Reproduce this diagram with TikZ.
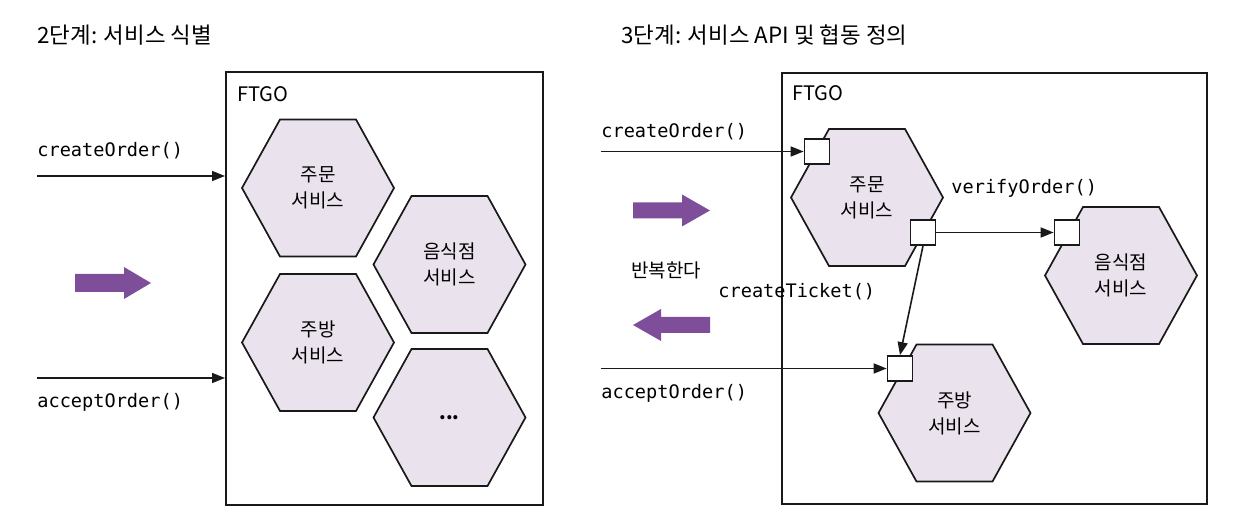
\documentclass[tikz,border=0pt]{standalone}
\usepackage{fontspec}
\setmainfont{Noto Sans CJK KR}
\setmonofont{DejaVu Sans Mono}
\usetikzlibrary{arrows.meta}

\definecolor{svcfill}{RGB}{234,226,236}
\definecolor{stepviolet}{RGB}{126,78,154}

\tikzset{
  hexcell/.style={fill=svcfill, draw=black!90, line width=0.85pt},
  svctext/.style={align=center, font=\fontsize{9.5}{13}\selectfont},
  port/.style={draw=black!90, fill=white, line width=0.85pt, minimum size=12.5pt, inner sep=0pt},
  appbox/.style={draw=black!90, line width=0.9pt, anchor=north west, inner sep=0pt},
  flow/.style={line width=0.8pt, draw=black!90, -{Triangle[length=6.5pt,width=5pt]}},
  apicall/.style={font=\ttfamily\fontsize{9.3}{11}\selectfont, inner sep=0pt},
  caption/.style={font=\fontsize{11.2}{13}\selectfont, anchor=west, inner sep=0pt},
  boxname/.style={font=\fontsize{10}{12}\selectfont, anchor=west, inner sep=0pt},
  bigarrow/.style={fill=stepviolet}
}

% hexagon with its label node
\newcommand{\svchex}[3]{%
  \filldraw[hexcell] (#1) ++(-76,0) -- ++(38,-68.5) -- ++(76,0) -- ++(38,68.5)
    -- ++(-38,68.5) -- ++(-76,0) -- cycle;
  \node[svctext] (#2) at (#1) {#3};}

\begin{document}
\begin{tikzpicture}[x=0.5pt,y=-0.5pt]
      \useasboundingbox (0,0) rectangle (1248,528);

      % step 2
      \begin{scope}
        \node[caption] (title2) at (37,35) {2단계: 서비스 식별};
        \node[appbox, minimum width=158.5pt, minimum height=216.5pt] (ftgo2) at (225,71) {};
        \node[boxname] (ftgoname2) at (237,94) {FTGO};

        \svchex{318,188}{order2}{주문\\서비스}
        \svchex{449.5,264.5}{rest2}{음식점\\서비스}
        \svchex{318,342.5}{kitchen2}{주방\\서비스}
        \svchex{449.5,417.5}{more2}{\textbf{...}}

        \coordinate (in2a) at (37,176);
        \coordinate (in2b) at (37,378);
        \draw[flow] (in2a) -- (in2a -| ftgo2.west);
        \draw[flow] (in2b) -- (in2b -| ftgo2.west);
        \node[apicall, anchor=west] (create2) at (37,151) {createOrder()};
        \node[apicall, anchor=west] (accept2) at (37,402) {acceptOrder()};

        \fill[bigarrow, shift={(75,283)}] (0,-9) -- (49,-9) -- (49,-16) -- (76,0)
          -- (49,16) -- (49,9) -- (0,9) -- cycle;
      \end{scope}

      % step 3
      \begin{scope}
        \node[caption] (title3) at (621,35) {3단계: 서비스 API 및 협동 정의};
        \node[appbox, minimum width=212.5pt, minimum height=215.5pt] (ftgo3) at (781,72) {};
        \node[boxname] (ftgoname3) at (792,93) {FTGO};

        \svchex{867,197.5}{order3}{주문\\서비스}
        \svchex{1121,275.5}{rest3}{음식점\\서비스}
        \svchex{954.5,413}{kitchen3}{주방\\서비스}

        \node[port] (p1) at (817,151.5) {};
        \node[port] (p2) at (923,232.5) {};
        \node[port] (p3) at (1067,232.5) {};
        \node[port] (p4) at (900,368.5) {};

        \coordinate (in3a) at (601,151.5);
        \coordinate (in3b) at (601,368.5);
        \draw[flow] (in3a) -- (p1.west);
        \draw[flow] (in3b) -- (p4.west);
        \draw[flow] (p2.east) -- (p3.west);
        \draw[flow] (p2.south) -- (p4.north);

        \node[apicall, anchor=west] (create3) at (601,132) {createOrder()};
        \node[apicall, anchor=west] (accept3) at (601,393) {acceptOrder()};
        \node[apicall, anchor=west] (verify3) at (951,188) {verifyOrder()};
        \node[apicall, anchor=west] (ticket3) at (718,292) {createTicket()};

        \fill[bigarrow, shift={(633,210.5)}] (0,-8) -- (49,-8) -- (49,-16) -- (77,0)
          -- (49,16) -- (49,8) -- (0,8) -- cycle;
        \node[svctext, anchor=west, inner sep=0pt] (repeat3) at (631,270) {반복한다};
        \fill[bigarrow, shift={(710,325)}, xscale=-1] (0,-8) -- (49,-8) -- (49,-16) -- (77,0)
          -- (49,16) -- (49,8) -- (0,8) -- cycle;
      \end{scope}
    \end{tikzpicture}
\end{document}
